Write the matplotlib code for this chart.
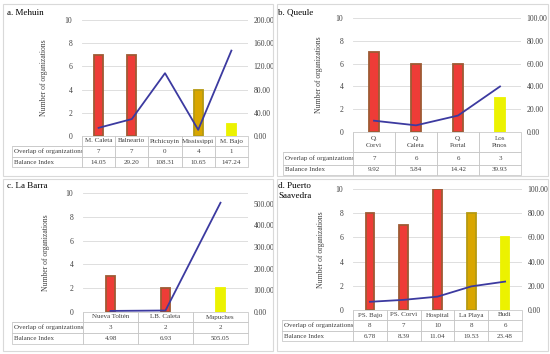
import numpy as np
import matplotlib
matplotlib.use('Agg')
import matplotlib.pyplot as plt
from matplotlib.patches import Rectangle
from matplotlib.table import Table

plt.rcParams['font.family'] = ['Liberation Serif', 'DejaVu Serif']
plt.rcParams['font.size'] = 5

# Data
row_names = ['Overlap of organizations', 'Balance Index']

mehuin_sites = ['M. Caleta', 'Balneario', 'Pichicuyin', 'Mississippi', 'M. Bajo']
mehuin_overlap = [7, 7, 0, 4, 1]
mehuin_balance = [14.05, 29.20, 108.31, 10.65, 147.24]

queule_sites = ['Q.\nCorvi', 'Q.\nCaleta', 'Q.\nPortal', 'Los\nPinos']
queule_overlap = [7, 6, 6, 3]
queule_balance = [9.92, 5.84, 14.42, 39.93]

labarra_sites = ['Nueva Toltén', 'LB. Caleta', 'Mapuches']
labarra_overlap = [3, 2, 2]
labarra_balance = [4.98, 6.93, 505.05]

saavedra_sites = ['PS. Bajo', 'PS. Corvi', 'Hospital', 'La Playa', 'Budi']
saavedra_overlap = [8, 7, 10, 8, 6]
saavedra_balance = [6.78, 8.39, 11.04, 19.53, 23.48]

# bar styles (face, edge)
RED = ('#ee3c37', '#9e5b34')
GOLD = ('#d9a600', '#b59a12')
YELLOW = ('#ecf200', '#ecf200')

W, H = 550, 354
fig = plt.figure(figsize=(W / 100, H / 100), dpi=100)
fig.patch.set_facecolor('white')


def add_panel(title, title_xy, box, plot, tab_left, rows_px, ylab_x,
              sites, overlap, balance, styles, bar_w, rtop, rticks):
    # panel border
    bx0, by0, bx1, by1 = box
    fig.patches.append(Rectangle((bx0 / W, 1 - by1 / H), (bx1 - bx0) / W, (by1 - by0) / H,
                                 transform=fig.transFigure, fill=False,
                                 edgecolor='#d9d9d9', lw=0.8))
    fig.text(title_xy[0] / W, 1 - title_xy[1] / H, title, fontsize=6.5,
             ha='left', va='top', linespacing=1.4)

    x0, y0, x1, y1 = plot
    pw, ph = x1 - x0, y1 - y0
    ax = fig.add_axes([x0 / W, 1 - y1 / H, pw / W, ph / H])
    n = len(sites)
    xs = np.arange(n)
    ax.bar(xs, overlap, width=bar_w, color=[s[0] for s in styles],
           edgecolor=[s[1] for s in styles],
           linewidth=[1.3 if v > 0 else 0 for v in overlap], zorder=3)
    ax.set_xlim(-0.5, n - 0.5)
    ax.set_ylim(0, 10)
    ax.set_yticks(range(0, 11, 2))
    ax.set_xticks([])
    ax.grid(axis='y', color='#d9d9d9', lw=0.6)
    ax.set_axisbelow(True)
    for s in ax.spines.values():
        s.set_visible(False)
    ax.tick_params(axis='y', length=0, pad=7, labelsize=5.5, colors='#404040')
    ax.set_ylabel('Number of organizations', fontsize=5.5, color='#404040')
    ax.yaxis.set_label_coords((ylab_x - x0) / pw, 0.5)

    ax2 = ax.twinx()
    ax2.plot(xs, balance, color='#3c3aa0', lw=1.3, zorder=4)
    ax2.set_ylim(0, rtop)
    ax2.set_yticks(rticks)
    ax2.yaxis.set_major_formatter('{x:.2f}')
    for s in ax2.spines.values():
        s.set_visible(False)
    ax2.tick_params(axis='y', length=0, pad=4, labelsize=5.5, colors='#404040')

    # data table under the plot
    t0, t1, t2, t3 = rows_px
    tbl = Table(ax, bbox=[(tab_left - x0) / pw, -(t3 - t0) / ph,
                          (x1 - tab_left) / pw, (t3 - t0) / ph])
    first_w = (x0 - tab_left) / (x1 - tab_left)
    col_w = (1 - first_w) / n
    heights = [t1 - t0, t2 - t1, t3 - t2]
    heights = [h / (t3 - t0) for h in heights]
    edge = '#bfbfbf'
    c = tbl.add_cell(0, 0, first_w, heights[0], text='', edgecolor=edge)
    c.visible_edges = 'BR'
    for j, name in enumerate(sites):
        tbl.add_cell(0, j + 1, col_w, heights[0], text=name, loc='center', edgecolor=edge)
    cells = [[str(v) for v in overlap], [f'{v:.2f}' for v in balance]]
    for i in range(2):
        tbl.add_cell(i + 1, 0, first_w, heights[i + 1], text=row_names[i],
                     loc='left', edgecolor=edge)
        for j in range(n):
            tbl.add_cell(i + 1, j + 1, col_w, heights[i + 1], text=cells[i][j],
                         loc='center', edgecolor=edge)
    for cell in tbl.get_celld().values():
        cell.set_linewidth(0.5)
        cell.PAD = 0.03
        cell.get_text().set_color('#404040')
        cell.get_text().set_linespacing(1.5)
    tbl.auto_set_font_size(False)
    tbl.set_fontsize(5)
    ax.add_table(tbl)


add_panel('a. Mehuin', (7, 9), (3, 4, 273, 176), (82, 20, 248, 136), 12,
          (136, 146, 157, 167), 48,
          mehuin_sites, mehuin_overlap, mehuin_balance,
          [RED, RED, RED, GOLD, YELLOW], 0.27, 200, np.arange(0, 201, 40))

add_panel('b. Queule', (278, 9), (277, 4, 548, 176), (353, 18, 521, 132), 283,
          (132, 152, 165, 175), 323,
          queule_sites, queule_overlap, queule_balance,
          [RED, RED, RED, YELLOW], 0.22, 100, np.arange(0, 101, 20))

add_panel('c. La Barra', (7, 182), (3, 179, 273, 351), (83, 193, 248, 312), 12,
          (312, 322, 333, 344), 50,
          labarra_sites, labarra_overlap, labarra_balance,
          [RED, RED, YELLOW], 0.18, 550, np.arange(0, 501, 100))

add_panel('d. Puerto\nSaavedra', (278, 182), (277, 179, 548, 351), (353, 189, 522, 310), 282,
          (310, 320, 331, 341), 325,
          saavedra_sites, saavedra_overlap, saavedra_balance,
          [RED, RED, RED, GOLD, YELLOW], 0.25, 100, np.arange(0, 101, 20))

fig.savefig('out.png', dpi=100)
